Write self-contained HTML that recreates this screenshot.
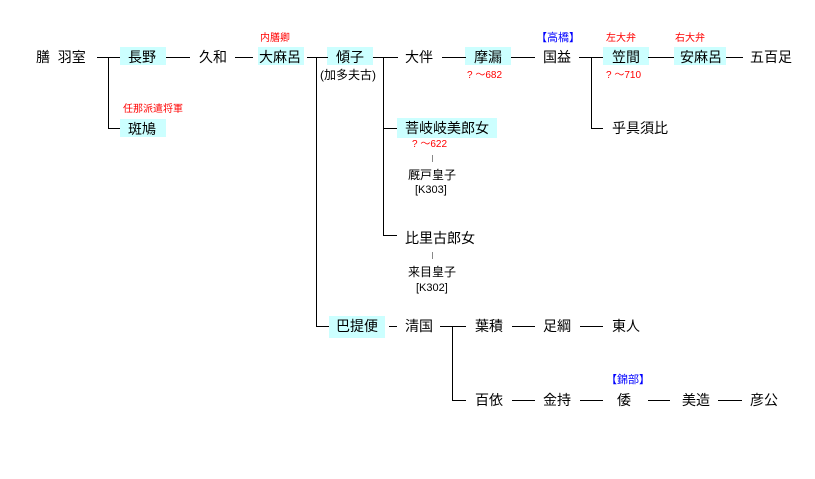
<!DOCTYPE html>
<html><head><meta charset="utf-8"><style>
body{margin:0;width:815px;height:479px;background:#fff;position:relative;overflow:hidden;font-family:"Liberation Sans","Noto Sans CJK JP",sans-serif;}
.t{position:absolute;font-size:14px;line-height:18px;color:#000;white-space:nowrap;}
.b{position:absolute;background:#ccffff;height:18px;}
.s{position:absolute;font-size:10px;line-height:12px;white-space:nowrap;}
.r{color:#f00}.bl{color:#00f}
.h{position:absolute;height:1px;background:#000}
.v{position:absolute;width:1px;background:#000}
.g{position:absolute;width:1px;background:#888}
</style></head><body>
<!-- boxes -->
<div class="b" style="left:120px;top:47px;width:46px"></div>
<div class="b" style="left:258px;top:47px;width:46px"></div>
<div class="b" style="left:327px;top:47px;width:46px"></div>
<div class="b" style="left:465px;top:47px;width:46px"></div>
<div class="b" style="left:603px;top:47px;width:46px"></div>
<div class="b" style="left:674px;top:47px;width:52px"></div>
<div class="b" style="left:120px;top:119px;width:46px"></div>
<div class="b" style="left:397px;top:118px;width:100px;height:20px"></div>
<div class="b" style="left:329px;top:316px;width:56px;height:22px"></div>
<!-- lines main row -->
<div class="h" style="left:97px;top:57px;width:23px"></div>
<div class="v" style="left:108px;top:57px;height:71px"></div>
<div class="h" style="left:108px;top:128px;width:12px"></div>
<div class="h" style="left:166px;top:57px;width:24px"></div>
<div class="h" style="left:235px;top:57px;width:18px"></div>
<div class="h" style="left:307px;top:57px;width:21px"></div>
<div class="v" style="left:316px;top:57px;height:269px"></div>
<div class="h" style="left:316px;top:326px;width:13px"></div>
<div class="h" style="left:373px;top:57px;width:25px"></div>
<div class="v" style="left:383px;top:57px;height:178px"></div>
<div class="h" style="left:383px;top:128px;width:14px"></div>
<div class="h" style="left:383px;top:235px;width:14px"></div>
<div class="h" style="left:442px;top:57px;width:24px"></div>
<div class="h" style="left:511px;top:57px;width:24px"></div>
<div class="h" style="left:579px;top:57px;width:24px"></div>
<div class="v" style="left:591px;top:57px;height:71px"></div>
<div class="h" style="left:591px;top:128px;width:12px"></div>
<div class="h" style="left:648px;top:57px;width:26px"></div>
<div class="h" style="left:726px;top:57px;width:17px"></div>
<!-- bottom -->
<div class="h" style="left:389px;top:326px;width:8px"></div>
<div class="h" style="left:440px;top:326px;width:26px"></div>
<div class="v" style="left:452px;top:326px;height:74px"></div>
<div class="h" style="left:452px;top:400px;width:14px"></div>
<div class="h" style="left:512px;top:326px;width:23px"></div>
<div class="h" style="left:580px;top:326px;width:23px"></div>
<div class="h" style="left:512px;top:400px;width:23px"></div>
<div class="h" style="left:580px;top:400px;width:23px"></div>
<div class="h" style="left:648px;top:400px;width:22px"></div>
<div class="h" style="left:718px;top:400px;width:24px"></div>
<div class="g" style="left:432px;top:155px;height:7px"></div>
<div class="g" style="left:432px;top:252px;height:7px"></div>
<!-- texts -->
<div class="t" style="left:36px;top:48px">膳&nbsp; 羽室</div>
<div class="t" style="left:128px;top:48px">長野</div>
<div class="t" style="left:199px;top:48px">久和</div>
<div class="t" style="left:259px;top:48px">大麻呂</div>
<div class="s r" style="left:260px;top:33px">内膳卿</div>
<div class="t" style="left:336px;top:48px">傾子</div>
<div class="s" style="left:320px;top:68px;font-size:12px;line-height:14px">(加多夫古)</div>
<div class="t" style="left:405px;top:48px">大伴</div>
<div class="t" style="left:474px;top:48px">摩漏</div>
<div class="s r" style="left:467px;top:70px">? ～682</div>
<div class="t" style="left:543px;top:48px">国益</div>
<div class="s bl" style="left:536px;top:32px;font-size:11px">【高橋】</div>
<div class="t" style="left:612px;top:48px">笠間</div>
<div class="s r" style="left:606px;top:33px">左大弁</div>
<div class="s r" style="left:606px;top:70px">? ～710</div>
<div class="t" style="left:680px;top:48px">安麻呂</div>
<div class="s r" style="left:675px;top:33px">右大弁</div>
<div class="t" style="left:750px;top:48px">五百足</div>
<div class="t" style="left:612px;top:119px">乎具須比</div>
<div class="t" style="left:128px;top:120px">斑鳩</div>
<div class="s r" style="left:123px;top:104px">任那派遣将軍</div>
<div class="t" style="left:405px;top:119px">菩岐岐美郎女</div>
<div class="s r" style="left:412px;top:139px">? ～622</div>
<div class="s" style="left:408px;top:168px;font-size:12px;line-height:14px">厩戸皇子</div>
<div class="s" style="left:415px;top:183px;font-size:11px;line-height:14px">[K303]</div>
<div class="t" style="left:405px;top:229px">比里古郎女</div>
<div class="s" style="left:408px;top:265px;font-size:12px;line-height:14px">来目皇子</div>
<div class="s" style="left:416px;top:281px;font-size:11px;line-height:14px">[K302]</div>
<div class="t" style="left:336px;top:317px">巴提便</div>
<div class="t" style="left:405px;top:317px">清国</div>
<div class="t" style="left:475px;top:317px">葉積</div>
<div class="t" style="left:543px;top:317px">足綱</div>
<div class="t" style="left:612px;top:317px">東人</div>
<div class="t" style="left:475px;top:391px">百依</div>
<div class="t" style="left:543px;top:391px">金持</div>
<div class="t" style="left:617px;top:391px">倭</div>
<div class="s bl" style="left:606px;top:374px;font-size:11px">【錦部】</div>
<div class="t" style="left:682px;top:391px">美造</div>
<div class="t" style="left:750px;top:391px">彦公</div>
</body></html>
